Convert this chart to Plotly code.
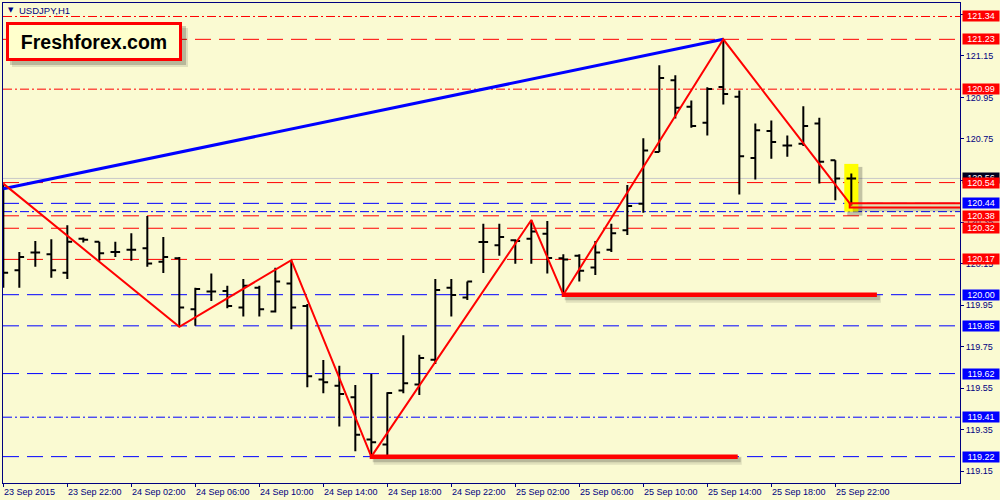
import plotly.graph_objects as go

# ---------------- data ----------------
bar_index = list(range(54))  # hourly bars, 23 Sep 2015 18:00 ... 25 Sep 23:00
opens = [120.12, 120.118, 120.203, 120.195, 120.106, 120.270, 120.255, 120.206, 120.217, 120.224,
         120.159, 120.176, 119.930, 120.015, 120.018, 119.938, 120.034, 119.919, 120.054, 119.946,
         119.591, 119.562, 119.506, 119.302, 119.278, 119.538, 119.567, 119.687, 120.034, 119.986,
         120.254, 120.238, 120.262, 120.270, 120.294, 120.175, 120.187, 120.131, 120.216, 120.310,
         120.438, 120.687, 121.033, 120.905, 120.828, 121.001, 120.953, 120.659, 120.788, 120.719,
         120.727, 120.825, 120.647, 120.560]
highs = [120.535, 120.206, 120.259, 120.267, 120.334, 120.275, 120.255, 120.255, 120.296, 120.379,
         120.278, 120.182, 120.034, 120.102, 120.043, 120.075, 120.043, 120.130, 120.166, 119.955,
         119.685, 119.658, 119.565, 119.618, 119.530, 119.805, 119.711, 120.075, 120.075, 120.063,
         120.342, 120.342, 120.267, 120.360, 120.355, 120.195, 120.195, 120.259, 120.342, 120.528,
         120.753, 121.105, 121.057, 120.935, 120.999, 121.230, 120.983, 120.825, 120.839, 120.767,
         120.908, 120.852, 120.647, 120.584]
lows = [120.034, 120.034, 120.135, 120.082, 120.075, 120.251, 120.163, 120.182, 120.163, 120.135,
        120.104, 119.845, 119.850, 119.970, 119.935, 119.895, 119.895, 119.914, 119.834, 119.554,
        119.525, 119.365, 119.246, 119.220, 119.225, 119.525, 119.517, 119.666, 119.895, 119.975,
        120.104, 120.187, 120.149, 120.149, 120.102, 120.000, 120.063, 120.095, 120.206, 120.288,
        120.395, 120.687, 120.849, 120.804, 120.767, 120.916, 120.483, 120.555, 120.655, 120.664,
        120.716, 120.536, 120.455, 120.430]
closes = [120.106, 120.182, 120.203, 120.118, 120.255, 120.265, 120.200, 120.206, 120.217, 120.150,
          120.182, 119.938, 120.027, 120.015, 119.946, 120.043, 119.930, 120.063, 119.938, 119.607,
          119.578, 119.522, 119.326, 119.289, 119.527, 119.573, 119.695, 120.023, 119.999, 120.063,
          120.254, 120.278, 120.259, 120.304, 120.177, 120.170, 120.115, 120.203, 120.296, 120.427,
          120.695, 121.044, 120.900, 120.812, 120.991, 120.967, 120.667, 120.792, 120.736, 120.719,
          120.812, 120.640, 120.560, 120.560]

time_tick_index = [0, 4, 8, 12, 16, 20, 24, 28, 32, 36, 40, 44, 48, 52]
time_tick_labels = ["23 Sep 2015", "23 Sep 22:00", "24 Sep 02:00", "24 Sep 06:00", "24 Sep 10:00",
                    "24 Sep 14:00", "24 Sep 18:00", "24 Sep 22:00", "25 Sep 02:00", "25 Sep 06:00",
                    "25 Sep 10:00", "25 Sep 14:00", "25 Sep 18:00", "25 Sep 22:00"]

price_ticks = [119.15, 119.35, 119.55, 119.75, 119.95, 120.15, 120.35, 120.55, 120.75, 120.95,
               121.15, 121.35]

level_prices = [121.34, 121.23, 120.99, 120.54, 120.44, 120.40, 120.38, 120.32, 120.17, 120.00,
                119.85, 119.62, 119.41, 119.22]
level_colors = ["red", "red", "red", "red", "blue", "blue", "red", "red", "red", "blue",
                "blue", "blue", "blue", "blue"]
level_styles = ["dashdot", "dash", "dashdot", "dash", "dash", "dashdot", "dash", "dash", "dash",
                "dash", "dash", "dash", "dashdot", "dash"]
level_labelled = [True, True, True, True, True, False, True, True, True, True,
                  True, True, True, True]

bid_price = 120.56
symbol_title = "USDJPY,H1"
logo_text = "Freshforex.com"

zigzag_index = [0, 11, 18, 23, 33, 35, 45, 53]
zigzag_price = [120.535, 119.845, 120.166, 119.22, 120.36, 120.00, 121.23, 120.43]

blue_line_index = [0, 45]
blue_line_price = [120.51, 121.23]

support_price = [119.22, 120.00]
support_start = [22.9, 34.9]
support_end = [45.9, 54.6]

highlight_index = [52.56, 53.44]
highlight_price = [120.40, 120.63]

zone_index = [52.9, 60.5]
zone_price = [120.42, 120.44]

# ---------------- style / layout ----------------
W, H = 1000, 500
ML, MR, MT, MB = 3, 40, 3, 17
PW, PH = W - ML - MR, H - MT - MB
PX_PER_BAR = 16.0
X_RANGE = [-0.02, -0.02 + PW / PX_PER_BAR]
Y_RANGE = [119.093, 121.405]
PX_PER_PRICE = PH / (Y_RANGE[1] - Y_RANGE[0])
BG = "#FAFAD2"
NAVY = "#000080"
FONT = "Liberation Sans, Arial, sans-serif"
COLORS = {"red": "#FF0000", "blue": "#0000FF"}
DASHES = {"dash": "16px,8px", "dashdot": "9px,3px,2px,3px"}

# logo box in page pixels
LOGO_BOX = (6, 22, 182, 61)  # left, top, right, bottom


def dx(px):
    return px / PX_PER_BAR


def dy(px):
    return px / PX_PER_PRICE


def paper_x(px):
    return (px - ML) / PW


def paper_y(py):
    return (H - MB - py) / PH


fig = go.Figure()

shapes = []
for p, c, s in zip(level_prices, level_colors, level_styles):
    shapes.append(dict(type="line", xref="paper", x0=0, x1=1, yref="y", y0=p, y1=p,
                       line=dict(color=COLORS[c], width=1, dash=DASHES[s]), layer="below"))
# bid line
shapes.append(dict(type="line", xref="paper", x0=0, x1=1, yref="y", y0=bid_price, y1=bid_price,
                   line=dict(color="#C8C8C8", width=1), layer="below"))
# highlight rectangle (yellow) with shadow
shapes.append(dict(type="rect", xref="x", yref="y",
                   x0=highlight_index[0] + dx(3), x1=highlight_index[1] + dx(4),
                   y0=highlight_price[0] - dy(4), y1=highlight_price[1] - dy(3),
                   line=dict(width=0), fillcolor="rgba(0,0,0,0.22)", layer="below"))
shapes.append(dict(type="rect", xref="x", yref="y",
                   x0=highlight_index[0], x1=highlight_index[1],
                   y0=highlight_price[0], y1=highlight_price[1],
                   line=dict(width=0), fillcolor="#FFFF00", layer="below"))
# zone rectangle with shadow
shapes.append(dict(type="rect", xref="x", yref="y",
                   x0=zone_index[0] + dx(3), x1=zone_index[1] + dx(3),
                   y0=zone_price[0] - dy(4), y1=zone_price[1] - dy(4),
                   line=dict(width=0), fillcolor="rgba(0,0,0,0.18)", layer="above"))
shapes.append(dict(type="rect", xref="x", yref="y",
                   x0=zone_index[0], x1=zone_index[1], y0=zone_price[0], y1=zone_price[1],
                   line=dict(color="#FF0000", width=2), fillcolor="rgba(150,150,110,0.25)",
                   layer="above"))
# logo shadow (soft, two layers)
for sh, col in [(6, "rgba(0,0,0,0.10)"), (4, "rgba(0,0,0,0.18)")]:
    shapes.append(dict(type="rect", xref="paper", yref="paper",
                       x0=paper_x(LOGO_BOX[0] + sh), x1=paper_x(LOGO_BOX[2] + sh),
                       y0=paper_y(LOGO_BOX[3] + sh), y1=paper_y(LOGO_BOX[1] + sh),
                       line=dict(width=0), fillcolor=col, layer="above"))

fig.add_trace(go.Ohlc(x=bar_index, open=opens, high=highs, low=lows, close=closes,
                      increasing=dict(line=dict(color="black", width=2)),
                      decreasing=dict(line=dict(color="black", width=2)),
                      tickwidth=0.3, hoverinfo="skip", showlegend=False))

# support lines with shadows
for p, a, b in zip(support_price, support_start, support_end):
    for off, w, alpha in [(4, 8, 0.10), (3, 5, 0.18)]:
        fig.add_trace(go.Scatter(x=[a + dx(off), b + dx(off)], y=[p - dy(off), p - dy(off)],
                                 mode="lines", line=dict(color=f"rgba(0,0,0,{alpha})", width=w),
                                 hoverinfo="skip", showlegend=False))

fig.add_trace(go.Scatter(x=blue_line_index, y=blue_line_price, mode="lines",
                         line=dict(color="#0000FF", width=3), hoverinfo="skip", showlegend=False))
fig.add_trace(go.Scatter(x=zigzag_index, y=zigzag_price, mode="lines",
                         line=dict(color="#FF0000", width=2), hoverinfo="skip", showlegend=False))
for p, a, b in zip(support_price, support_start, support_end):
    fig.add_trace(go.Scatter(x=[a, b], y=[p, p], mode="lines",
                             line=dict(color="#FF0000", width=4.5),
                             hoverinfo="skip", showlegend=False))

annotations = []
# time labels (left aligned at tick)
for i, t in zip(time_tick_index, time_tick_labels):
    annotations.append(dict(xref="x", x=i, yref="paper", y=0, xanchor="left", yanchor="top",
                            xshift=-1, yshift=-2, text=t, showarrow=False,
                            font=dict(family=FONT, size=9, color=NAVY)))
# bid label (under others)
annotations.append(dict(xref="paper", x=1, xshift=2, xanchor="left", yref="y", y=bid_price,
                        yanchor="middle", text=f"{bid_price:.2f}", showarrow=False,
                        bgcolor="#000020", width=35, height=9, borderpad=0.5, align="center",
                        font=dict(family=FONT, size=9, color="white")))
for p, c, lab in zip(level_prices, level_colors, level_labelled):
    if not lab:
        continue
    annotations.append(dict(xref="paper", x=1, xshift=2, xanchor="left", yref="y", y=p,
                            yanchor="middle", text=f"{p:.2f}", showarrow=False,
                            bgcolor=COLORS[c], width=35, height=9, borderpad=0.5, align="center",
                            font=dict(family=FONT, size=9, color="white")))
# symbol title
annotations.append(dict(xref="paper", x=0, xshift=7.5, xanchor="center", yref="paper", y=1,
                        yshift=-7, yanchor="middle", text="▼", showarrow=False,
                        font=dict(family="DejaVu Sans", size=7, color=NAVY)))
annotations.append(dict(xref="paper", x=0, xshift=14, xanchor="left", yref="paper", y=1,
                        yshift=-7, yanchor="middle", text=symbol_title, showarrow=False,
                        font=dict(family=FONT, size=9.5, color=NAVY)))
# logo
annotations.append(dict(xref="paper", x=0, xshift=LOGO_BOX[0] - ML, xanchor="left",
                        yref="paper", y=1, yshift=-(LOGO_BOX[1] - MT), yanchor="top",
                        text=f"<b>{logo_text}</b>", showarrow=False,
                        bgcolor="#FFFFCC", bordercolor="#FF0000", borderwidth=3, borderpad=0,
                        width=LOGO_BOX[2] - LOGO_BOX[0] - 6, height=LOGO_BOX[3] - LOGO_BOX[1] - 6,
                        font=dict(family=FONT, size=19.5, color="black")))

fig.update_layout(
    width=W, height=H, margin=dict(l=ML, r=MR, t=MT, b=MB),
    paper_bgcolor=BG, plot_bgcolor=BG, showlegend=False,
    shapes=shapes, annotations=annotations,
    xaxis=dict(range=X_RANGE, tickvals=time_tick_index, ticks="outside", ticklen=3,
               tickcolor=NAVY, showticklabels=False, showgrid=False, zeroline=False,
               showline=True, mirror=True, linecolor=NAVY, linewidth=1,
               rangeslider=dict(visible=False), fixedrange=True),
    yaxis=dict(range=Y_RANGE, side="right", tickvals=price_ticks,
               ticktext=[f"{v:.2f}" for v in price_ticks], ticks="outside", ticklen=3,
               tickcolor=NAVY, tickfont=dict(family=FONT, size=9, color=NAVY),
               showgrid=False, zeroline=False, showline=True, mirror=True,
               linecolor=NAVY, linewidth=1, fixedrange=True),
)

fig.write_html("out.html", config={"displayModeBar": False},
               post_script="document.body.style.margin='0';document.body.style.padding='0';")
